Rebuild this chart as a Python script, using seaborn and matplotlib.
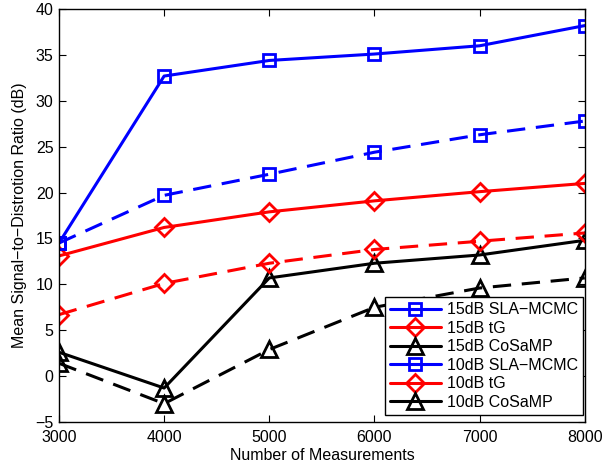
import matplotlib
matplotlib.use("Agg")
import matplotlib.pyplot as plt
import seaborn as sns
import pandas as pd

measurements = [3000, 4000, 5000, 6000, 7000, 8000]
sla_15 = [14.5, 32.7, 34.4, 35.1, 36.0, 38.2]
tg_15 = [13.1, 16.2, 17.9, 19.1, 20.1, 21.0]
cosamp_15 = [2.6, -1.3, 10.7, 12.3, 13.2, 14.8]
sla_10 = [14.5, 19.7, 22.0, 24.4, 26.3, 27.8]
tg_10 = [6.7, 10.1, 12.3, 13.8, 14.7, 15.6]
cosamp_10 = [1.4, -3.0, 2.9, 7.5, 9.6, 10.7]

series = [
    ("15dB SLA\u2212MCMC", sla_15, "#0000ff", "s", 9, "-"),
    ("15dB tG", tg_15, "#ff0000", "D", 9, "-"),
    ("15dB CoSaMP", cosamp_15, "#000000", "^", 12, "-"),
    ("10dB SLA\u2212MCMC", sla_10, "#0000ff", "s", 9, "--"),
    ("10dB tG", tg_10, "#ff0000", "D", 9, "--"),
    ("10dB CoSaMP", cosamp_10, "#000000", "^", 12, "--"),
]

sns.set_style("ticks")
plt.rcParams["font.family"] = ["Liberation Sans", "DejaVu Sans"]
plt.rcParams["text.color"] = "black"
plt.rcParams["axes.labelcolor"] = "black"
plt.rcParams["xtick.color"] = "black"
plt.rcParams["ytick.color"] = "black"

fig = plt.figure(figsize=(6.03, 4.65), dpi=100)
ax = fig.add_axes([0.0978, 0.0925, 0.872, 0.888])

for name, vals, col, mk, ms, ls in series:
    df = pd.DataFrame({"x": measurements, "y": vals})
    sns.lineplot(data=df, x="x", y="y", ax=ax, color=col, marker=mk,
                 markersize=ms, markerfacecolor="none", markeredgecolor=col,
                 markeredgewidth=2.0, linewidth=2.2, label=name)
    line = ax.lines[-1]
    if ls == "--":
        line.set_dashes((6, 3.5))

ax.set_xlim(3000, 8000)
ax.set_ylim(-5, 40)
ax.set_xticks(measurements)
ax.set_yticks(range(-5, 41, 5))
ax.set_xlabel("Number of Measurements", fontsize=11.5, labelpad=2)
ax.set_ylabel("Mean Signal\u2212to\u2212Distrotion Ratio (dB)", fontsize=11.5, labelpad=6)
ax.tick_params(direction="in", top=True, right=True, labelsize=11.5, length=5, width=0.8)
ax.tick_params(axis="x", pad=6)
ax.tick_params(axis="y", pad=4)
for s in ax.spines.values():
    s.set_linewidth(1.0)
    s.set_color("black")

leg = ax.legend(loc="lower right", bbox_to_anchor=(0.997, 0.018), fontsize=11.5,
                frameon=True, fancybox=False, edgecolor="black", framealpha=1,
                handlelength=3.2, borderpad=0.3, labelspacing=0.22,
                handletextpad=0.4, borderaxespad=0.0)
leg.get_frame().set_linewidth(1.0)
for h in leg.get_lines():
    h.set_linestyle("-")

fig.savefig("out.png", dpi=100)
